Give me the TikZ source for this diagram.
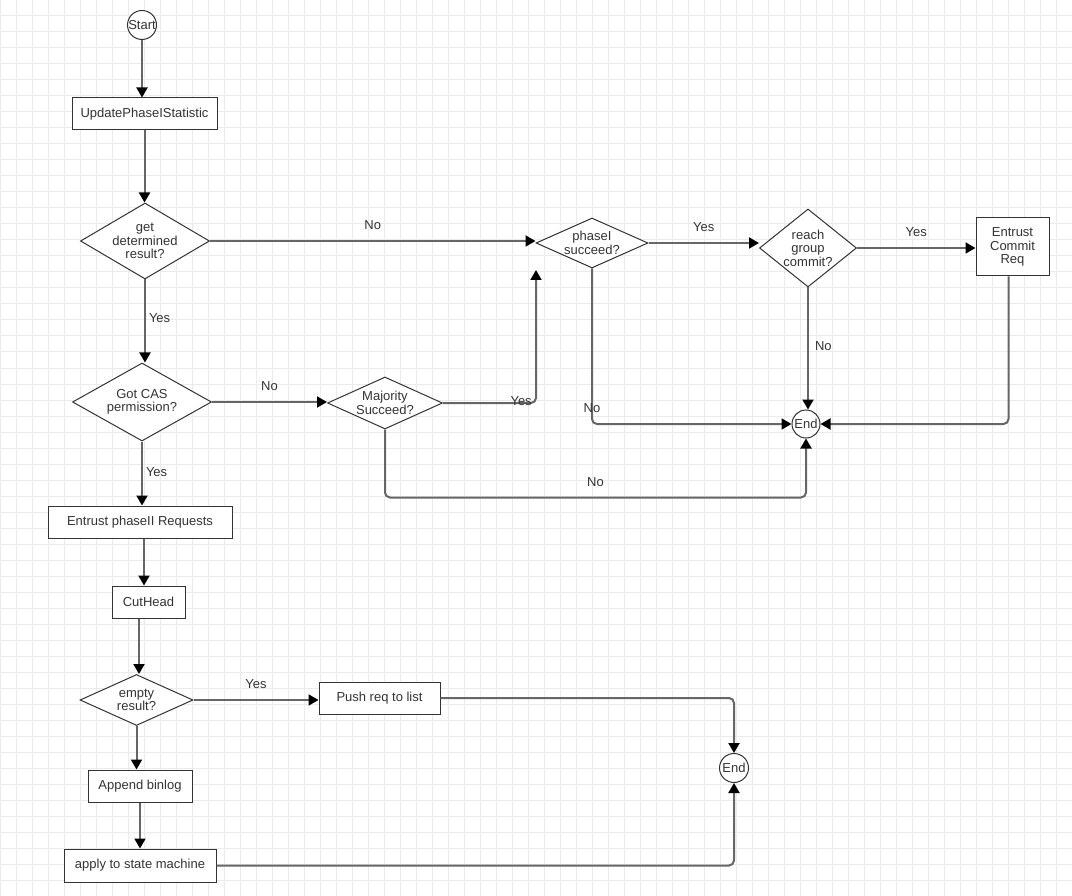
\documentclass[tikz,border=0pt]{standalone}
\usepackage{fontspec}
\setmainfont{Liberation Sans}
\usetikzlibrary{shapes.geometric,arrows.meta}

\definecolor{gridgray}{HTML}{EBEBEB}
\definecolor{linegray}{HTML}{666666}
\definecolor{txtgray}{HTML}{333333}

\tikzset{
  gridline/.style={draw=gridgray, line width=1pt},
  proc/.style={draw=txtgray, line width=1pt, fill=white, minimum height=32pt, inner sep=0pt,
    text=txtgray, font=\fontsize{13}{13.5}\selectfont},
  dec/.style={diamond, aspect=2, draw=txtgray, line width=1pt, fill=white, inner sep=-3pt,
    text=txtgray, align=center, font=\fontsize{13}{13.5}\selectfont},
  term/.style={circle, draw=txtgray, line width=1pt, fill=white, inner sep=-2pt, minimum size=29pt,
    text=txtgray, font=\fontsize{13}{13.5}\selectfont},
  flow/.style={draw=linegray, line width=2pt, rounded corners=5pt,
    -{Triangle[length=10pt,width=11pt,color=black]}},
  lbl/.style={text=txtgray, inner sep=1pt, font=\fontsize{13}{13.5}\selectfont},
  lblup/.style={lbl, above=9pt},
  lblright/.style={lbl, anchor=west, xshift=2pt},
}

\begin{document}
\begin{tikzpicture}[x=1pt,y=-1pt]
\useasboundingbox (0,0) rectangle (1072,896);
\fill[white] (0,0) rectangle (1072,896);
% background grid
\foreach \gx in {0,16,...,1072} \draw[gridline] (\gx,0) -- (\gx,896);
\foreach \gy in {0,16,...,896} \draw[gridline] (0,\gy) -- (1072,\gy);

% left column
\node[term] (start) at (142,25) {Start};
\node[proc, minimum width=145pt] (upd) at (144.5,114) {UpdatePhaseIStatistic};
\node[dec, minimum width=129pt, minimum height=76pt] (getd) at (145,241) {get\\determined\\result?};
\node[dec, minimum width=139pt, minimum height=78pt] (cas) at (142,402) {Got CAS\\permission?};
\node[proc, minimum width=184pt] (ep2) at (140,522) {Entrust phaseII Requests};
\node[proc, minimum width=73pt] (cut) at (148.5,602) {CutHead};
\node[dec, minimum width=113pt, minimum height=51pt] (empty) at (136.5,700) {empty\\result?};
\node[proc, minimum width=104pt] (app) at (140,786) {Append binlog};
\node[proc, minimum width=152pt, minimum height=33pt] (apply) at (140,865.5) {apply to state machine};

% right part
\node[dec, minimum width=115pt, minimum height=52pt] (maj) at (385,403) {Majority\\Succeed?};
\node[dec, minimum width=112pt, minimum height=50pt] (ph) at (592,243) {phaseI\\succeed?};
\node[dec, aspect=1.25, minimum width=97pt, minimum height=78pt] (reach) at (808,248) {reach\\group\\commit?};
\node[proc, align=center, minimum width=73pt, minimum height=58pt] (ecr) at (1012.5,247) {Entrust\\Commit\\Req};
\node[term, minimum size=28pt] (end1) at (806,424) {End};
\node[proc, minimum width=121pt] (push) at (379.5,698) {Push req to list};
\node[term] (end2) at (734,768) {End};
\coordinate (phin) at (536,270);

% connectors
\draw[flow] (start) -- (start |- upd.north);
\draw[flow] (upd) -- (upd |- getd.north);
\draw[flow] (getd.south) -- node[lblright, pos=0.46] {Yes} (getd.south |- cas.north);
\draw[flow] (getd.east) -- node[lblup] {No} (getd.east -| ph.west);
\draw[flow] (cas.east) -- node[lblup] {No} (cas.east -| maj.west);
\draw[flow] (cas.south) -- node[lblright, pos=0.48] {Yes} (cas.south |- ep2.north);
\draw[flow] (maj.east) -| node[lbl, pos=0.42, yshift=2pt] {Yes} (phin);
\draw[flow] (maj.south) -- ++(0,68) -| node[lblup, pos=0.25] {No} (end1.south);
\draw[flow] (ph.south) |- node[lbl, pos=0.45] {No} (end1.west);
\draw[flow] (ph.east) -- node[lblup] {Yes} (ph.east -| reach.west);
\draw[flow] (reach.east) -- node[lblup] {Yes} (reach.east -| ecr.west);
\draw[flow] (reach.south) -- node[lblright, pos=0.48, xshift=3pt] {No} (reach.south |- end1.north);
\draw[flow] ([xshift=-4pt]ecr.south) |- (end1.east);
\draw[flow] ([xshift=4pt]ep2.south) -- ([xshift=4pt]ep2.south |- cut.north);
\draw[flow] ([xshift=2.5pt]empty.north |- cut.south) -- ([xshift=2.5pt]empty.north);
\draw[flow] (empty.east) -- node[lblup] {Yes} (empty.east -| push.west);
\draw[flow] (empty.south) -- (empty.south |- app.north);
\draw[flow] (app) -- (app |- apply.north);
\draw[flow] (push.east) -| (end2.north);
\draw[flow] (apply.east) -| (end2.south);
\end{tikzpicture}
\end{document}
